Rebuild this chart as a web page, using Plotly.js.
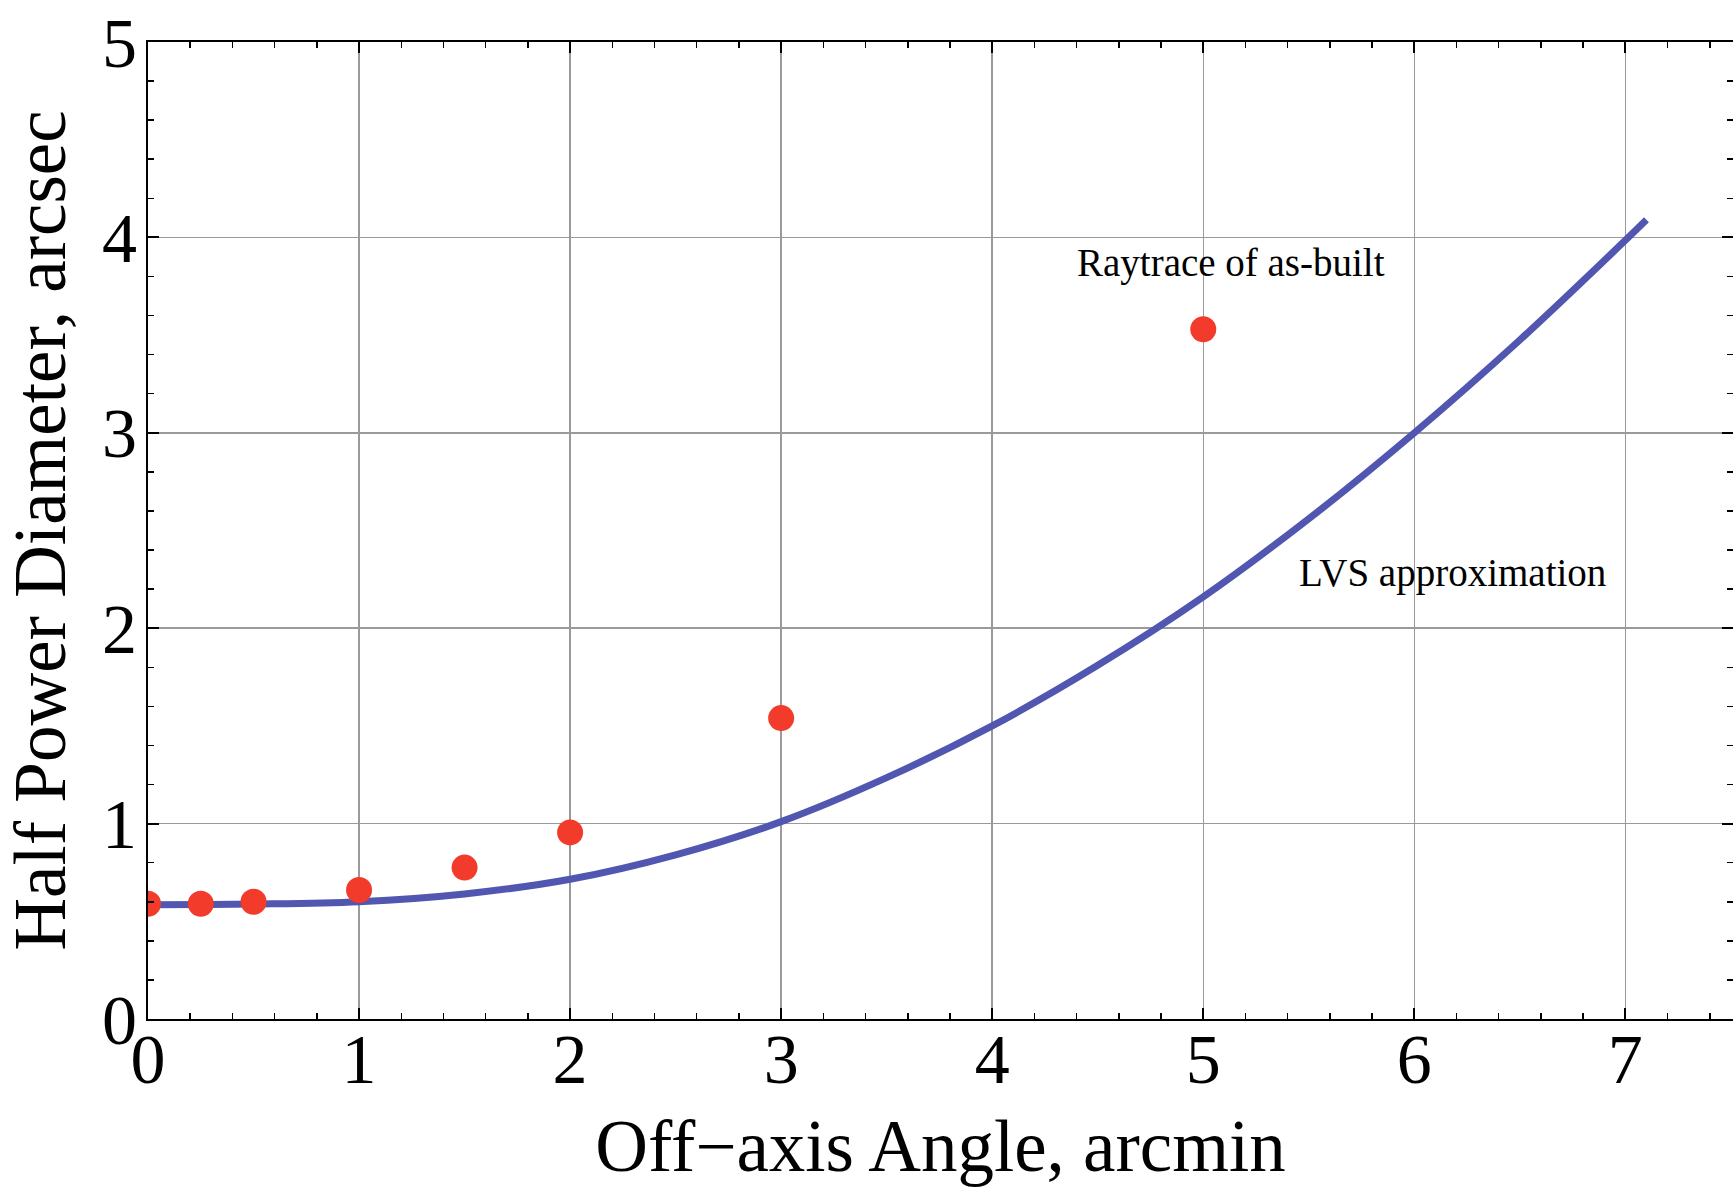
<!DOCTYPE html>
<html>
<head>
<meta charset="utf-8">
<script src="https://cdn.plot.ly/plotly-3.0.1.min.js"></script>
<style>html,body{margin:0;padding:0;background:#fff;}#chart{width:1733px;height:1191px;}</style>
</head>
<body>
<div id="chart"></div>
<script>
// Raytrace of as-built (red points)
const raytraceX = [0, 0.25, 0.5, 1, 1.5, 2, 3, 5];
const raytraceY = [0.59, 0.59, 0.60, 0.66, 0.775, 0.955, 1.54, 3.53];

// LVS approximation (blue curve)
const lvsX = [0, 0.5, 1, 1.5, 2, 2.5, 3, 3.5, 4, 4.5, 5, 5.5, 6, 6.5, 7, 7.1];
const lvsY = [0.585, 0.588, 0.600, 0.640, 0.715, 0.840, 1.010, 1.235, 1.500, 1.810, 2.160, 2.560, 3.000, 3.475, 3.985, 4.090];

const xTicks = [0, 1, 2, 3, 4, 5, 6, 7];
const yTicks = [0, 1, 2, 3, 4, 5];

const serif = "Liberation Serif, Times New Roman, serif";

const traces = [
  {
    x: lvsX, y: lvsY, type: "scatter", mode: "lines",
    line: {color: "#5157b0", width: 7, shape: "spline", smoothing: 1},
    name: "LVS approximation", showlegend: false
  },
  {
    x: raytraceX, y: raytraceY, type: "scatter", mode: "markers",
    marker: {color: "#f23b2b", size: 26},
    name: "Raytrace of as-built", showlegend: false
  }
];

const axisCommon = {
  showline: true, linecolor: "#000", linewidth: 2, mirror: "ticks",
  ticks: "inside", ticklen: 11, tickwidth: 2, tickcolor: "#000",
  showgrid: true, gridcolor: "#9a9a9a", gridwidth: 1.5,
  zeroline: false,
  tickfont: {family: serif, size: 70, color: "#000"},
  minor: {ticks: "inside", ticklen: 6, tickwidth: 1.5, tickcolor: "#000", dtick: 0.2, showgrid: false}
};

const layout = {
  width: 1733, height: 1191,
  margin: {l: 148, r: 0, t: 42, b: 172},
  paper_bgcolor: "#fff", plot_bgcolor: "#fff",
  showlegend: false,
  xaxis: Object.assign({}, axisCommon, {
    range: [0, 7.51], tickmode: "array", tickvals: xTicks, ticktext: xTicks.map(String),
    ticklabelstandoff: -22,
    title: {text: "Off\u2212axis Angle, arcmin", font: {family: serif, size: 73, color: "#000"}, standoff: 23}
  }),
  yaxis: Object.assign({}, axisCommon, {
    range: [0, 5], tickmode: "array", tickvals: yTicks, ticktext: yTicks.map(String),
    ticklabelstandoff: -5,
    title: {text: "Half Power Diameter, arcsec", font: {family: serif, size: 73, color: "#000"}, standoff: 12}
  }),
  annotations: [
    {x: 5.13, y: 3.87, xref: "x", yref: "y", text: "Raytrace of as-built", showarrow: false,
     font: {family: serif, size: 39, color: "#000"}},
    {x: 6.18, y: 2.28, xref: "x", yref: "y", text: "LVS approximation", showarrow: false,
     font: {family: serif, size: 39, color: "#000"}}
  ]
};

Plotly.newPlot("chart", traces, layout, {displayModeBar: false, staticPlot: true});
</script>
</body>
</html>
